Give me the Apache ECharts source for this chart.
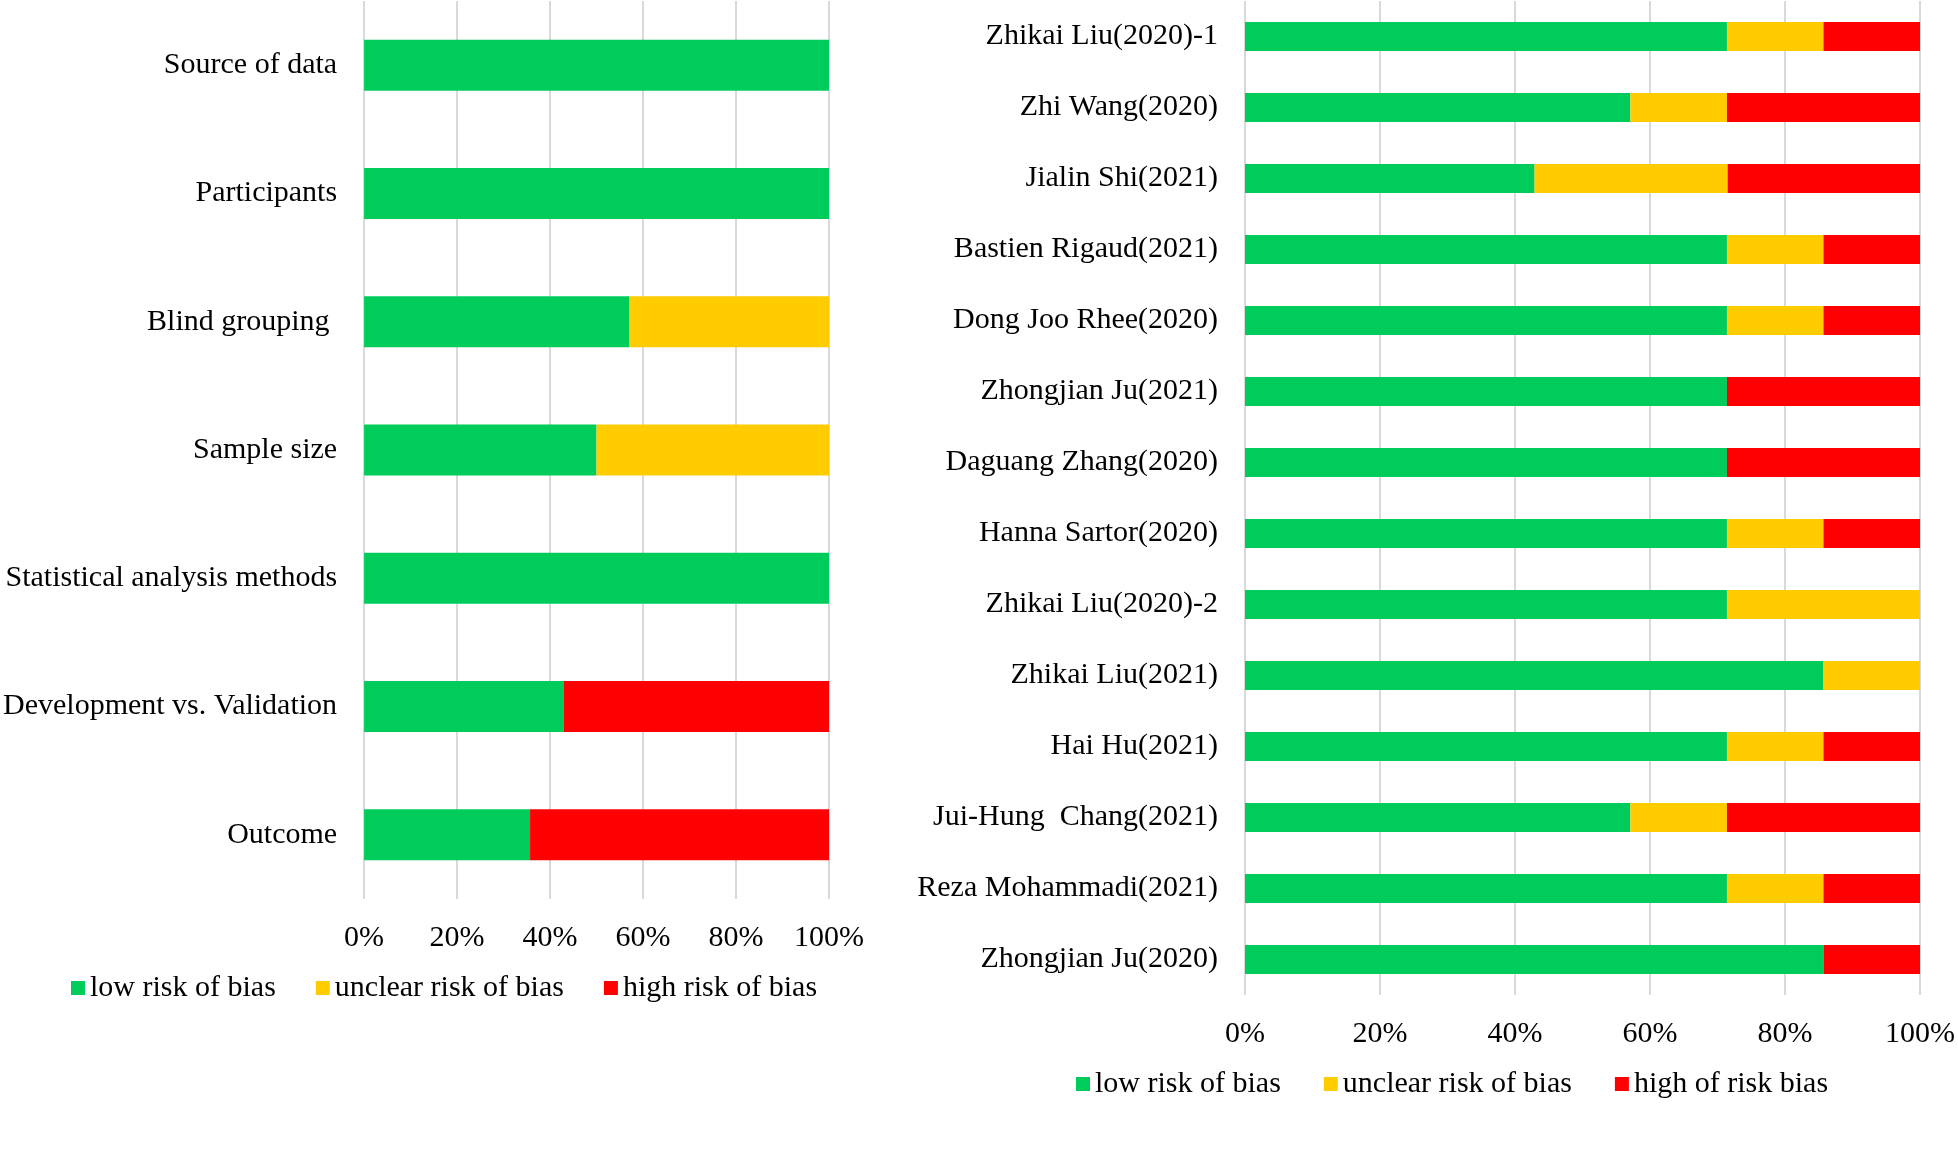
<!DOCTYPE html>
<html>
<head>
<meta charset="utf-8">
<script src="https://cdn.jsdelivr.net/npm/echarts@6/dist/echarts.min.js"></script>
<style>
html,body{margin:0;padding:0;background:#fff;}
#chart{width:1958px;height:1161px;}
</style>
</head>
<body>
<div id="chart"></div>
<script>
// ---- data ----
var leftCategories = ['Source of data','Participants','Blind grouping ','Sample size','Statistical analysis methods','Development vs. Validation','Outcome'];
var leftLow     = [100, 100, 57.1, 50, 100, 42.9, 35.7];
var leftUnclear = [0, 0, 42.9, 50, 0, 0, 0];
var leftHigh    = [0, 0, 0, 0, 0, 57.1, 64.3];

var rightCategories = ['Zhikai Liu(2020)-1','Zhi Wang(2020)','Jialin Shi(2021)','Bastien Rigaud(2021)','Dong Joo Rhee(2020)','Zhongjian Ju(2021)','Daguang Zhang(2020)','Hanna Sartor(2020)','Zhikai Liu(2020)-2','Zhikai Liu(2021)','Hai Hu(2021)','Jui-Hung  Chang(2021)','Reza Mohammadi(2021)','Zhongjian Ju(2020)'];
var rightLow     = [71.4, 57.1, 42.9, 71.4, 71.4, 71.4, 71.4, 71.4, 71.4, 85.7, 71.4, 57.1, 71.4, 85.7];
var rightUnclear = [14.3, 14.3, 28.6, 14.3, 14.3, 0, 0, 14.3, 28.6, 14.3, 14.3, 14.3, 14.3, 0];
var rightHigh    = [14.3, 28.6, 28.5, 14.3, 14.3, 28.6, 28.6, 14.3, 0, 0, 14.3, 28.6, 14.3, 14.3];

var leftLegend  = ['low risk of bias','unclear risk of bias','high risk of bias'];
var rightLegend = ['low risk of bias','unclear risk of bias','high of risk bias'];

// ---- styles ----
var FONT = '"Liberation Serif","Times New Roman",serif';
var GREEN = '#00CC5C', YELLOW = '#FFCC00', RED = '#FF0000';
var FS = 30;

function xAxis(gridIndex){
  return {
    type:'value', gridIndex:gridIndex, min:0, max:100, interval:20,
    axisLine:{show:false}, axisTick:{show:false},
    axisLabel:{formatter:'{value}%', fontFamily:FONT, fontSize:FS, color:'#000', margin:24},
    splitLine:{show:true, lineStyle:{color:'#D9D9D9', width:2}}
  };
}
function yAxis(gridIndex, cats){
  return {
    type:'category', gridIndex:gridIndex, data:cats, inverse:true,
    axisLine:{show:false}, axisTick:{show:false},
    axisLabel:{fontFamily:FONT, fontSize:FS, color:'#000', margin:27},
    splitLine:{show:false}
  };
}
function bar(name, data, color, idx, stack, bw){
  return {
    name:name, type:'bar', stack:stack, data:data,
    xAxisIndex:idx, yAxisIndex:idx, barWidth:bw,
    itemStyle:{color:color}, emphasis:{disabled:true}, animation:false
  };
}

var chart = echarts.init(document.getElementById('chart'), null, {renderer:'canvas'});
chart.setOption({
  backgroundColor:'#fff',
  animation:false,
  grid:[
    {left:361, top:1, width:468, height:898},
    {left:1245, top:1, width:679, height:994}
  ],
  xAxis:[xAxis(0), xAxis(1)],
  yAxis:[yAxis(0, leftCategories), yAxis(1, rightCategories)],
  legend:[
    {data:leftLegend, left:71, top:973, padding:0, itemWidth:14, itemHeight:14, itemGap:40, icon:'rect',
     textStyle:{fontFamily:FONT, fontSize:FS, color:'#000'}, selectedMode:false},
    {data:rightLegend, left:1076, top:1069, padding:0, itemWidth:14, itemHeight:14, itemGap:43, icon:'rect',
     textStyle:{fontFamily:FONT, fontSize:FS, color:'#000'}, selectedMode:false}
  ],
  series:[
    bar(leftLegend[0], leftLow, GREEN, 0, 'L', 51),
    bar(leftLegend[1], leftUnclear, YELLOW, 0, 'L', 51),
    bar(leftLegend[2], leftHigh, RED, 0, 'L', 51),
    bar(rightLegend[0], rightLow, GREEN, 1, 'R', 29),
    bar(rightLegend[1], rightUnclear, YELLOW, 1, 'R', 29),
    bar(rightLegend[2], rightHigh, RED, 1, 'R', 29)
  ]
});
</script>
</body>
</html>
